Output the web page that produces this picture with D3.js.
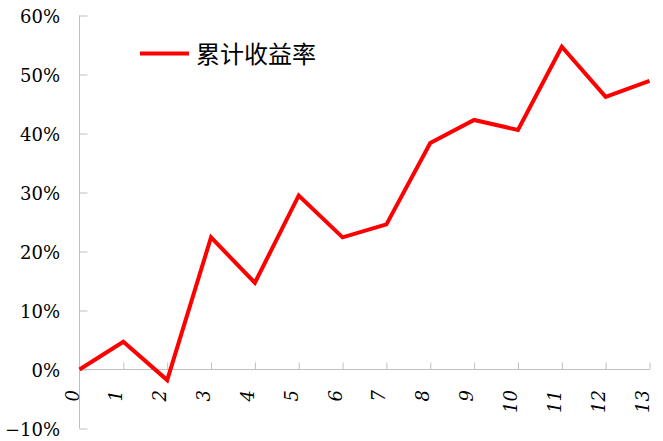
<!DOCTYPE html>
<html>
<head>
<meta charset="utf-8">
<script src="https://cdn.jsdelivr.net/npm/d3@7"></script>
<style>
  body { margin: 0; background: #fff; }
  .num { font-family: 'DejaVu Serif', serif; }
</style>
</head>
<body>
<div id="main"></div>
<script>
var periods = [0, 1, 2, 3, 4, 5, 6, 7, 8, 9, 10, 11, 12, 13]
var cumReturn = [0, 4.7, -1.8, 22.4, 14.7, 29.5, 22.4, 24.6, 38.4, 42.3, 40.6, 54.7, 46.2, 48.9]
var yTicks = [-10, 0, 10, 20, 30, 40, 50, 60]
var seriesName = '累计收益率'

var width = 663, height = 441
var axisColor = '#bfbfbf'

var svg = d3.select('#main')
  .append('svg')
  .attr('width', width)
  .attr('height', height)

var x = d3.scaleLinear().domain([0, 13]).range([79.5, 649.5])
var y = d3.scaleLinear().domain([-10, 60]).range([428.5, 15.5])

// y axis, ticks pointing inward
var yAxis = svg.append('g')
  .attr('transform', `translate(${x(0)},0)`)
  .call(d3.axisRight(y).tickValues(yTicks).tickSize(8).tickFormat(''))
yAxis.select('.domain').attr('stroke', axisColor).attr('d', `M0,${y(-10)}V${y(60)}`)
yAxis.selectAll('.tick line').attr('stroke', axisColor)

svg.append('g')
  .selectAll('text')
  .data(yTicks)
  .enter()
  .append('text')
    .attr('class', 'num')
    .attr('x', 60)
    .attr('y', d => y(d) + 7.5)
    .attr('text-anchor', 'end')
    .attr('font-size', 18)
    .attr('fill', '#000')
    .text(d => (d < 0 ? '\u2212' + Math.abs(d) : d) + '%')

// x axis at 0%, ticks pointing up
var xAxis = svg.append('g')
  .attr('transform', `translate(0,${y(0)})`)
  .call(d3.axisTop(x).tickValues(periods.slice(1)).tickSize(7).tickFormat(''))
xAxis.select('.domain').attr('stroke', axisColor).attr('d', `M${x(0)},0H${x(13)}`)
xAxis.selectAll('.tick line').attr('stroke', axisColor)

svg.append('g')
  .selectAll('text')
  .data(periods)
  .enter()
  .append('text')
    .attr('class', 'num')
    .attr('transform', d => `translate(${x(d) - 1},390) rotate(-90)`)
    .attr('text-anchor', 'end')
    .attr('font-style', 'italic')
    .attr('font-size', 18)
    .attr('fill', '#000')
    .text(d => d)

var line = d3.line()
  .x((d, i) => x(periods[i]))
  .y(d => y(d))

svg.append('path')
  .datum(cumReturn)
  .attr('d', line)
  .attr('fill', 'none')
  .attr('stroke', '#ff0000')
  .attr('stroke-width', 4)
  .attr('stroke-linejoin', 'miter')

// legend
var legend = svg.append('g').attr('transform', 'translate(140,53.5)')
legend.append('line')
  .attr('x1', 0).attr('x2', 49)
  .attr('stroke', '#ff0000')
  .attr('stroke-width', 4)
legend.append('text')
  .attr('x', 56)
  .attr('y', 9)
  .attr('font-family', '"Noto Sans CJK SC", sans-serif')
  .attr('font-size', 24)
  .attr('fill', '#000')
  .text(seriesName)
</script>
</body>
</html>
